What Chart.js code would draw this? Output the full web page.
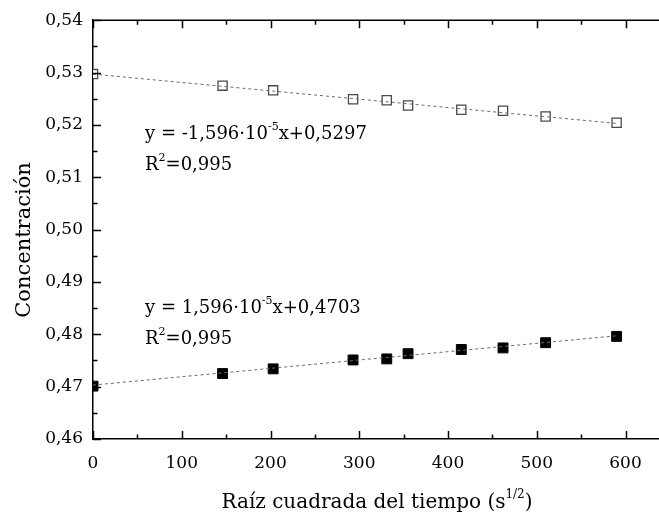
<!DOCTYPE html>
<html>
<head>
<meta charset="utf-8">
<script src="https://cdn.jsdelivr.net/npm/chart.js@4/dist/chart.umd.min.js"></script>
<style>
    html, body { margin: 0; padding: 0; background: #fff; overflow: hidden; }
    #contenedor { width: 661px; height: 521px; }
</style>
</head>
<body>
<div id="contenedor"><canvas id="grafico"></canvas></div>
<script>
// raíz cuadrada del tiempo (s^1/2)
var tiempo = [0, 146, 203, 293, 331, 355, 415, 462, 510, 590];
// concentraciones medidas
var concSuperior = [0.5297, 0.5275, 0.5266, 0.5249, 0.5247, 0.5237, 0.5229, 0.5227, 0.5216, 0.5204];
var concInferior = [0.4701, 0.4725, 0.4734, 0.4751, 0.4753, 0.4763, 0.4771, 0.4774, 0.4784, 0.4796];

// rectas de ajuste: [superior, inferior]
var pendientes = [-1.596e-5, 1.596e-5];
var ordenadas = [0.5297, 0.4703];
var rangoAjuste = [0, 590];

var fuente = "'DejaVu Serif', serif";

function puntos(xs, ys) {
    return xs.map(function (x, i) { return { x: x, y: ys[i] }; });
}

function recta(i) {
    return rangoAjuste.map(function (x) {
        return { x: x, y: ordenadas[i] + pendientes[i] * x };
    });
}

// escribe un texto con partes en superíndice: [[texto, esSuper], ...]
function textoSuper(ctx, partes, x, y, tam, centrar) {
    var anchos = partes.map(function (p) {
        ctx.font = (p[1] ? Math.round(tam * 0.62) : tam) + "px " + fuente;
        return ctx.measureText(p[0]).width;
    });
    var total = anchos.reduce(function (a, b) { return a + b; }, 0);
    var cx = centrar ? x - total / 2 : x;
    ctx.textAlign = "left";
    ctx.textBaseline = "alphabetic";
    partes.forEach(function (p, i) {
        ctx.font = (p[1] ? Math.round(tam * 0.62) : tam) + "px " + fuente;
        ctx.fillText(p[0], cx, p[1] ? y - tam * 0.5 : y);
        cx += anchos[i];
    });
}

var marcas = {
    id: "marcas",
    afterDraw: function (chart) {
        var ctx = chart.ctx;
        var a = chart.chartArea;
        var sx = chart.scales.x;
        var sy = chart.scales.y;
        ctx.save();
        ctx.strokeStyle = "#000";
        ctx.lineWidth = 1.5;

        // eje superior
        ctx.beginPath();
        ctx.moveTo(a.left, a.top);
        ctx.lineTo(a.right, a.top);
        ctx.stroke();

        // marcas hacia dentro en x (abajo y arriba)
        for (var i = 0; i <= 12; i++) {
            var px = Math.round(sx.getPixelForValue(i * 50)) + 0.5;
            var largo = i % 2 === 0 ? 8 : 4.5;
            ctx.beginPath();
            ctx.moveTo(px, a.bottom);
            ctx.lineTo(px, a.bottom - largo);
            ctx.moveTo(px, a.top);
            ctx.lineTo(px, a.top + largo);
            ctx.stroke();
        }
        // marcas hacia dentro en y
        for (var j = 0; j <= 16; j++) {
            var py = Math.round(sy.getPixelForValue(0.46 + j * 0.005)) + 0.5;
            var l = j % 2 === 0 ? 8 : 4.5;
            ctx.beginPath();
            ctx.moveTo(a.left, py);
            ctx.lineTo(a.left + l, py);
            ctx.stroke();
        }

        ctx.fillStyle = "#000";
        // ecuaciones
        textoSuper(ctx, [["y = -1,596\u00b710", false], ["-5", true], ["x+0,5297", false]], 145, 139, 18, false);
        textoSuper(ctx, [["R", false], ["2", true], ["=0,995", false]], 145, 170, 18, false);
        textoSuper(ctx, [["y = 1,596\u00b710", false], ["-5", true], ["x+0,4703", false]], 145, 313, 18, false);
        textoSuper(ctx, [["R", false], ["2", true], ["=0,995", false]], 145, 344, 18, false);

        // título eje x
        textoSuper(ctx, [["Ra\u00edz cuadrada del tiempo (s", false], ["1/2", true], [")", false]],
            377, 508, 20, true);

        // título eje y
        ctx.translate(30, 240);
        ctx.rotate(-Math.PI / 2);
        ctx.font = "21px " + fuente;
        ctx.textAlign = "center";
        ctx.textBaseline = "alphabetic";
        ctx.fillText("Concentraci\u00f3n", 0, 0);
        ctx.restore();
    }
};

var ctx = document.getElementById("grafico").getContext("2d");

var myChart = new Chart(ctx, {
    type: "scatter",
    data: {
        datasets: [
            {
                data: recta(0),
                showLine: true,
                borderColor: "#6a6a6a",
                borderWidth: 1,
                borderDash: [3, 3],
                pointRadius: 0
            },
            {
                data: recta(1),
                showLine: true,
                borderColor: "#6a6a6a",
                borderWidth: 1,
                borderDash: [3, 3],
                pointRadius: 0
            },
            {
                data: puntos(tiempo, concSuperior),
                pointStyle: "rect",
                pointRadius: 6.5,
                backgroundColor: "#fff",
                borderColor: "#4a4a4a",
                borderWidth: 1.3
            },
            {
                data: puntos(tiempo, concInferior),
                pointStyle: "rect",
                pointRadius: 7,
                backgroundColor: "#000",
                borderColor: "#000",
                borderWidth: 1
            }
        ]
    },
    options: {
        responsive: true,
        maintainAspectRatio: false,
        animation: false,
        devicePixelRatio: 1,
        layout: {
            autoPadding: false,
            padding: { top: 17, right: 0, bottom: 0, left: 0 }
        },
        plugins: {
            legend: { display: false },
            tooltip: { enabled: false }
        },
        scales: {
            x: {
                type: "linear",
                min: 0,
                max: 640,
                afterFit: function (scale) { scale.height = 82; },
                grid: { display: false, drawTicks: false },
                border: { display: true, color: "#000", width: 1.5 },
                ticks: {
                    stepSize: 100,
                    includeBounds: false,
                    padding: 14,
                    color: "#000",
                    font: { family: fuente, size: 17 },
                    maxRotation: 0
                }
            },
            y: {
                min: 0.46,
                max: 0.54,
                afterFit: function (scale) { scale.width = 93; },
                grid: { display: false, drawTicks: false },
                border: { display: true, color: "#000", width: 1.5 },
                ticks: {
                    stepSize: 0.01,
                    padding: 10,
                    color: "#000",
                    font: { family: fuente, size: 17 },
                    callback: function (v) { return v.toFixed(2).replace(".", ","); }
                }
            }
        }
    },
    plugins: [marcas]
});
</script>
</body>
</html>
